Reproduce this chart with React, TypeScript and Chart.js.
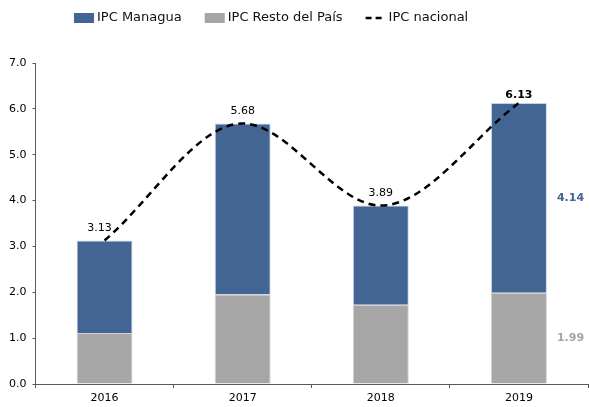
import React, { useEffect, useRef } from "react";
import { Chart, registerables } from "chart.js";

Chart.register(...registerables);

const categories = ["2016", "2017", "2018", "2019"];
const ipcResto = [1.11, 1.95, 1.73, 1.99];
const ipcManagua = [2.02, 3.73, 2.16, 4.14];
const ipcNacional = [3.13, 5.68, 3.89, 6.13];
const yTickValues = [0, 1, 2, 3, 4, 5, 6, 7];

const BLUE = "#426594";
const GRAY = "#a6a6a6";
const FONT = "DejaVu Sans";

const legendOrder = [1, 0, 2];

const legendPlugin = {
  id: "customLegend",
  afterDraw(chart: any) {
    const ctx = chart.ctx;
    ctx.save();
    ctx.font = `13px "${FONT}"`;
    ctx.textBaseline = "middle";
    ctx.textAlign = "left";
    let x = 74;
    const y = 18;
    legendOrder.forEach((di) => {
      const ds = chart.data.datasets[di];
      if (ds.type === "line") {
        ctx.strokeStyle = ds.borderColor;
        ctx.lineWidth = 2.5;
        ctx.setLineDash([6, 4]);
        ctx.beginPath();
        ctx.moveTo(x, y);
        ctx.lineTo(x + 20, y);
        ctx.stroke();
        ctx.setLineDash([]);
      } else {
        ctx.fillStyle = ds.backgroundColor;
        ctx.fillRect(x, y - 5, 20, 10);
      }
      ctx.fillStyle = "#111";
      ctx.fillText(ds.label, x + 23, y);
      x += 23 + ctx.measureText(ds.label).width + 23;
    });
    ctx.restore();
  },
};

const labelPlugin = {
  id: "valueLabels",
  afterDatasetsDraw(chart: any) {
    const ctx = chart.ctx;
    ctx.save();
    const n = ipcNacional.length;
    const lineMeta = chart.getDatasetMeta(2);
    ctx.textAlign = "center";
    ctx.textBaseline = "bottom";
    lineMeta.data.forEach((pt: any, i: number) => {
      const last = i === n - 1;
      ctx.font = `${last ? "bold " : ""}11px "${FONT}"`;
      ctx.fillStyle = "#000";
      const dx = i === 0 ? -5 : 0;
      ctx.fillText(ipcNacional[i].toFixed(2), pt.x + dx, pt.y - (last ? 2 : 7));
    });
    const restoBar = chart.getDatasetMeta(0).data[n - 1].getProps(["x", "y", "base", "width"], true);
    const manBar = chart.getDatasetMeta(1).data[n - 1].getProps(["x", "y", "base", "width"], true);
    ctx.textAlign = "left";
    ctx.textBaseline = "middle";
    ctx.font = `bold 11px "${FONT}"`;
    ctx.fillStyle = BLUE;
    ctx.fillText(ipcManagua[n - 1].toFixed(2), manBar.x + manBar.width / 2 + 10, (manBar.y + manBar.base) / 2);
    ctx.fillStyle = GRAY;
    ctx.fillText(ipcResto[n - 1].toFixed(2), restoBar.x + restoBar.width / 2 + 10, (restoBar.y + restoBar.base) / 2);
    ctx.restore();
  },
};

export default function App() {
  const ref = useRef<HTMLCanvasElement>(null);
  useEffect(() => {
    if (!ref.current) return;
    const chart = new Chart(ref.current, {
      type: "bar",
      data: {
        labels: categories,
        datasets: [
          {
            type: "bar",
            label: "IPC Resto del País",
            data: ipcResto,
            backgroundColor: GRAY,
            borderColor: "#d0d0d0",
            borderWidth: 1,
            barPercentage: 0.405,
            categoryPercentage: 1,
            order: 2,
          } as any,
          {
            type: "bar",
            label: "IPC Managua",
            data: ipcManagua,
            backgroundColor: BLUE,
            borderColor: "#c8d2e0",
            borderWidth: 1,
            barPercentage: 0.405,
            categoryPercentage: 1,
            order: 2,
          } as any,
          {
            type: "line",
            label: "IPC nacional",
            data: ipcNacional,
            borderColor: "#000",
            backgroundColor: "#000",
            borderWidth: 2.5,
            borderDash: [7, 5],
            pointRadius: 0,
            cubicInterpolationMode: "monotone",
            fill: false,
            stack: "line",
            order: 0,
          } as any,
        ],
      },
      options: {
        responsive: false,
        animation: false,
        layout: { padding: { top: 63, left: 3, right: 1, bottom: -2 } },
        plugins: { legend: { display: false }, tooltip: { enabled: false } },
        scales: {
          x: {
            stacked: true,
            grid: { display: true, drawOnChartArea: false, drawTicks: true, tickLength: 4, color: "#595959", offset: true },
            border: { display: true, color: "#595959", width: 1 },
            ticks: { color: "#000", font: { family: FONT, size: 11, lineHeight: 1 }, padding: 5 },
          },
          y: {
            stacked: true,
            min: 0,
            max: 7,
            afterBuildTicks: (axis: any) => {
              axis.ticks = yTickValues.map((v) => ({ value: v }));
            },
            grid: { display: true, drawOnChartArea: false, drawTicks: true, tickLength: 3, color: "#595959" },
            border: { display: true, color: "#595959", width: 1 },
            ticks: {
              color: "#000",
              font: { family: FONT, size: 11 },
              padding: 6,
              callback: (v: any) => Number(v).toFixed(1),
            },
          },
        },
      },
      plugins: [legendPlugin, labelPlugin],
    });
    return () => chart.destroy();
  }, []);
  return (
    <div style={{ position: "fixed", left: 0, top: 0, width: 589, height: 407, background: "#fff" }}>
      <canvas ref={ref} width={589} height={407} />
    </div>
  );
}
